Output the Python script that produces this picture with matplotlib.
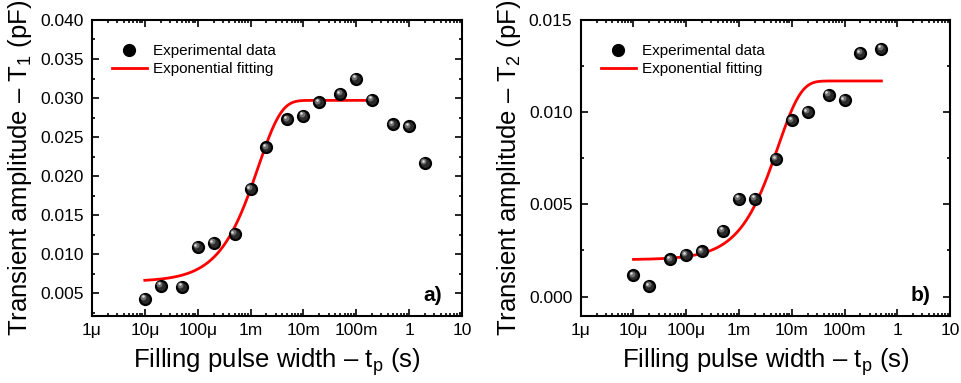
import numpy as np
import matplotlib
matplotlib.use("Agg")
import matplotlib.pyplot as plt
from matplotlib.ticker import FixedLocator, LogLocator, MultipleLocator, NullFormatter
import matplotlib.transforms as mtransforms

plt.rcParams['font.family'] = ['Liberation Sans', 'DejaVu Sans']
plt.rcParams['mathtext.fontset'] = 'custom'
plt.rcParams['mathtext.rm'] = 'Liberation Sans'
plt.rcParams['mathtext.default'] = 'regular'

# pulse widths (s)
tp_a = [1e-5, 2e-5, 5e-5, 1e-4, 2e-4, 5e-4, 1e-3, 2e-3, 5e-3, 1e-2, 2e-2, 5e-2, 0.1, 0.2, 0.5, 1, 2]
amp_a = [0.00432, 0.00599, 0.00586, 0.01095, 0.01141, 0.01262, 0.01838, 0.02368, 0.02727,
         0.02774, 0.02945, 0.03051, 0.03249, 0.02979, 0.02663, 0.02637, 0.02167]

tp_b = [1e-5, 2e-5, 5e-5, 1e-4, 2e-4, 5e-4, 1e-3, 2e-3, 5e-3, 1e-2, 2e-2, 5e-2, 0.1, 0.2, 0.5]
amp_b = [0.00115, 0.00057, 0.00202, 0.00227, 0.00245, 0.00358, 0.00531, 0.00531, 0.00746,
         0.00955, 0.01002, 0.01095, 0.01065, 0.01319, 0.01344]

# exponential fit parameters: y0, amplitude, tau, fit range
fit_a = (0.0065, 0.0232, 1.4e-3, 1e-5, 0.2)
fit_b = (0.0020, 0.00969, 5.5e-3, 1e-5, 0.5)

xticks = [1e-6, 1e-5, 1e-4, 1e-3, 1e-2, 1e-1, 1, 10]
xlabels = ['1μ', '10μ', '100μ', '1m', '10m', '100m', '1', '10']


def sphere(ax, x, y, ms=8.5):
    ax.plot(x, y, 'o', ls='none', ms=ms, color='black', mec='black', zorder=3)
    ax.plot(x, y, 'o', ls='none', ms=ms * 0.75, color='#2a2a2a', mec='none', zorder=4)
    off = mtransforms.offset_copy(ax.transData, fig=ax.figure, x=-1.3, y=1.3, units='points')
    ax.plot(x, y, 'o', ls='none', ms=ms * 0.5, color='#6e6e6e', mec='none', zorder=5, transform=off)
    off2 = mtransforms.offset_copy(ax.transData, fig=ax.figure, x=-1.6, y=1.6, units='points')
    ax.plot(x, y, 'o', ls='none', ms=ms * 0.22, color='#dcdcdc', mec='none', zorder=6, transform=off2)


def panel(ax, tp, amp, fit, ylim, ymajor, yfmt, ylabel, tag):
    y0, A, tau, t0, t1 = fit
    t = np.logspace(np.log10(t0), np.log10(t1), 300)
    ax.plot(t, y0 + A * (1 - np.exp(-t / tau)), color='#ff0000', lw=2, zorder=2)
    sphere(ax, tp, amp)
    ax.set_xscale('log')
    ax.set_xlim(1e-6, 10)
    ax.set_ylim(*ylim)
    ax.xaxis.set_major_locator(FixedLocator(xticks))
    ax.set_xticklabels(xlabels)
    ax.xaxis.set_minor_locator(LogLocator(base=10, subs=np.arange(2, 10), numticks=20))
    ax.xaxis.set_minor_formatter(NullFormatter())
    ax.yaxis.set_major_locator(MultipleLocator(ymajor))
    ax.yaxis.set_minor_locator(MultipleLocator(ymajor / 2))
    ax.yaxis.set_major_formatter(matplotlib.ticker.FormatStrFormatter(yfmt))
    ax.tick_params(which='both', direction='in', top=True, right=True, labelsize=12.5, width=1.2)
    ax.tick_params(which='major', length=5)
    ax.tick_params(which='minor', length=2.5)
    ax.tick_params(axis='x', pad=5)
    ax.tick_params(axis='y', pad=6)
    for s in ax.spines.values():
        s.set_linewidth(1.5)
    ax.set_xlabel('Filling pulse width – t$_p$ (s)', fontsize=18.5, labelpad=6)
    ax.set_ylabel(ylabel, fontsize=18.5, labelpad=4)
    ax.text(0.92, 0.07, tag, transform=ax.transAxes, ha='center', va='center',
            fontsize=15, fontweight='bold')
    # legend handles
    h1, = ax.plot([], [], 'o', ms=8.5, color='black')
    h2, = ax.plot([], [], color='#ff0000', lw=2)
    ax.legend([h1, h2], ['Experimental data', 'Exponential fitting'], loc='upper left',
              frameon=False, fontsize=11, handlelength=2.3, handletextpad=0.4,
              labelspacing=0.25, borderaxespad=0.9, bbox_to_anchor=(0.0, 0.985))


fig = plt.figure(figsize=(9.61, 3.83), dpi=100)
ax1 = fig.add_axes([0.0957, 0.175, 0.385, 0.773])
ax2 = fig.add_axes([0.6043, 0.175, 0.3843, 0.773])

panel(ax1, tp_a, amp_a, fit_a, (0.0021, 0.040), 0.005, '%.3f',
      'Transient amplitude – T$_1$ (pF)', 'a)')
panel(ax2, tp_b, amp_b, fit_b, (-0.00105, 0.015), 0.005, '%.3f',
      'Transient amplitude – T$_2$ (pF)', 'b)')

fig.savefig('out.png', dpi=100)
